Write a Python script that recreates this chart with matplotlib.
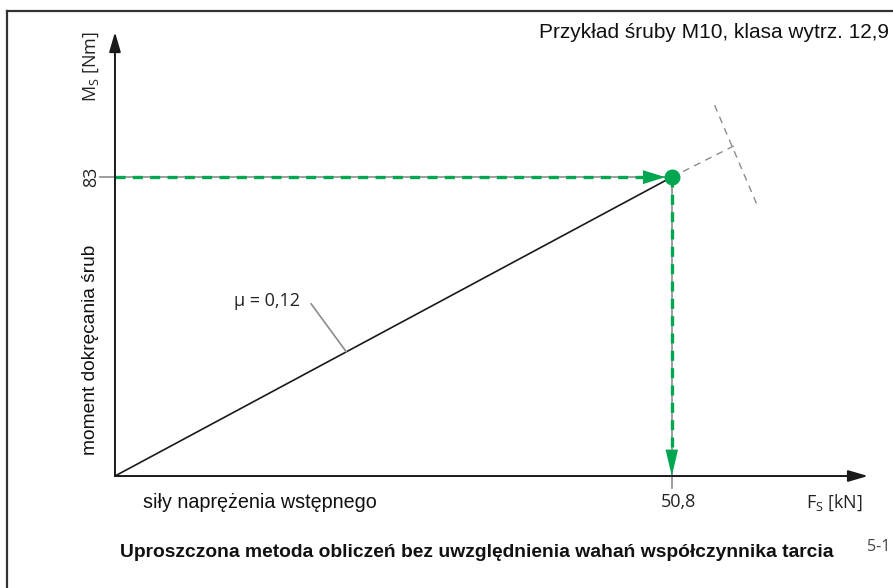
import matplotlib
matplotlib.use('Agg')
import matplotlib.pyplot as plt

# values
force_kn = 50.8
torque_nm = 83
mu_label = 'μ = 0,12'
x_tick_label = '50,8'
y_tick_label = '83'
x_axis_end = 68.7
y_axis_end = 123.3
# dashed construction lines past the operating point
ext_line_x = [force_kn, 56.6]
ext_line_y = [torque_nm, 91.9]
perp_line_x = [54.7, 58.7]
perp_line_y = [103.0, 74.4]

GREEN = '#00a650'
GRAY = '#8c8c8c'
DARK = '#1a1a1a'

humanist = ['Open Sans', 'DejaVu Sans']
arial = ['Liberation Sans', 'DejaVu Sans']
narrow = ['Liberation Sans Narrow', 'Liberation Sans', 'DejaVu Sans']

fig = plt.figure(figsize=(8.93, 5.88), dpi=100)
ax = fig.add_axes([0, 0, 1, 1])
ax.set_xlim(-10.49, 70.98)
ax.set_ylim(-31.1, 132.2)
ax.axis('off')

# frame around the picture
fig.add_artist(plt.Line2D([0.008, 0.008], [0, 0.982], transform=fig.transFigure, color='#333333', lw=1.6))
fig.add_artist(plt.Line2D([0.008, 1.0], [0.982, 0.982], transform=fig.transFigure, color='#333333', lw=1.6))

# axes with arrows
ax.annotate('', xy=(x_axis_end, 0), xytext=(0, 0),
            arrowprops=dict(arrowstyle='-|>,head_length=1.2,head_width=0.35', color=DARK, lw=1.4, shrinkA=0, shrinkB=0))
ax.annotate('', xy=(0, y_axis_end), xytext=(0, 0),
            arrowprops=dict(arrowstyle='-|>,head_length=1.2,head_width=0.35', color=DARK, lw=1.4, shrinkA=0, shrinkB=0))

# tightening line
ax.plot([0, force_kn], [0, torque_nm], color=DARK, lw=1.2)

# gray guide lines under the green dashes
ax.plot([-1.4, force_kn], [torque_nm, torque_nm], color=GRAY, lw=1.2)
ax.plot([force_kn, force_kn], [torque_nm, -3.4], color=GRAY, lw=1.2)
ax.plot([0, force_kn - 1.5], [torque_nm, torque_nm], color=GREEN, lw=2.4, ls=(0, (3, 2.2)))
ax.plot([force_kn, force_kn], [torque_nm, 6], color=GREEN, lw=2.4, ls=(0, (3, 2.2)))

# green arrowheads
ax.annotate('', xy=(force_kn - 0.6, torque_nm), xytext=(force_kn - 2, torque_nm),
            arrowprops=dict(arrowstyle='-|>,head_length=1.6,head_width=0.5', color=GREEN, lw=0, shrinkA=0, shrinkB=0))
ax.annotate('', xy=(force_kn, 0), xytext=(force_kn, 4),
            arrowprops=dict(arrowstyle='-|>,head_length=1.9,head_width=0.45', color=GREEN, lw=0, shrinkA=0, shrinkB=0))
ax.plot([force_kn], [torque_nm], 'o', color=GREEN, ms=10.5, zorder=5)

# dashed construction lines
ax.plot(ext_line_x, ext_line_y, color=GRAY, lw=1, ls=(0, (5, 4)))
ax.plot(perp_line_x, perp_line_y, color=GRAY, lw=1, ls=(0, (5, 4)))

# mu leader line
ax.plot([17.9, 21.1], [47.8, 34.5], color=GRAY, lw=1.2)
ax.text(16.9, 48.6, mu_label, ha='right', va='center', fontsize=13, family=humanist, color='#222222')

# axis texts
ax.text(-2.2, torque_nm, y_tick_label, rotation=90, ha='center', va='center', fontsize=13, family=humanist, color='#222222')
ax.text(51.4, -7.3, x_tick_label, ha='center', va='center', fontsize=13, family=humanist, color='#222222')
ax.text(-2.2, 113.6, 'M$_\\mathregular{S}$ [Nm]', rotation=90, ha='center', va='center', fontsize=13, family=humanist, color='#222222')
ax.text(65.6, -7.3, 'F$_\\mathregular{S}$ [kN]', ha='center', va='center', fontsize=13, family=humanist, color='#222222')
ax.text(-2.2, 35, 'moment dokręcania śrub', rotation=90, ha='center', va='center', fontsize=13.8, family=arial, color='#111111')
ax.text(2.6, -7.3, 'siły naprężenia wstępnego', ha='left', va='center', fontsize=14.2, family=arial, color='#111111')
ax.text(0.995, 0.945, 'Przykład śruby M10, klasa wytrz. 12,9', transform=fig.transFigure,
        ha='right', va='center', fontsize=15, family=arial, color='#111111')

fig.text(0.134, 0.06, 'Uproszczona metoda obliczeń bez uwzględnienia wahań współczynnika tarcia',
         ha='left', va='center', fontsize=13.9, fontweight='bold', family=narrow, color='#111111')
fig.text(0.971, 0.069, '5-1', ha='left', va='center', fontsize=11.5, family=humanist, color='#444444')

fig.savefig('out.png', dpi=100)
